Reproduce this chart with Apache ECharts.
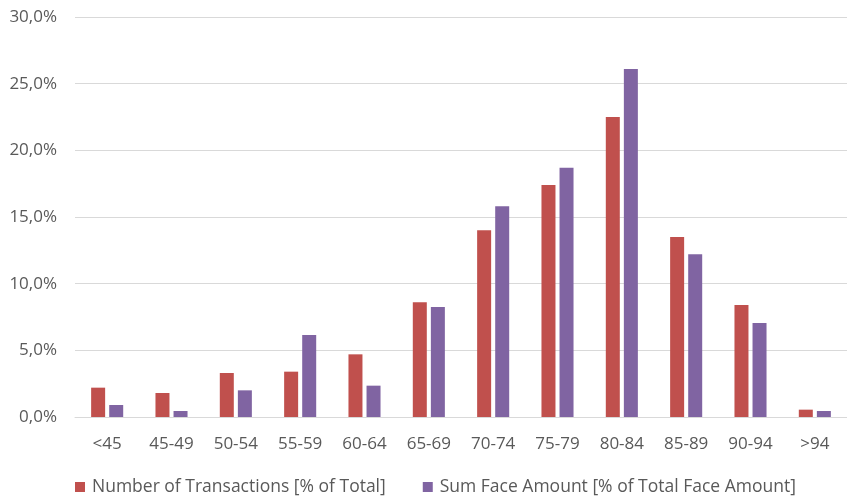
<!DOCTYPE html>
<html>
<head>
<meta charset="utf-8">
<script src="https://cdn.jsdelivr.net/npm/echarts@6/dist/echarts.min.js"></script>
<style>
html,body{margin:0;padding:0;background:#fff;}
#chart{width:847px;height:498px;}
</style>
</head>
<body>
<div id="chart"></div>
<script>
const categories = ['<45','45-49','50-54','55-59','60-64','65-69','70-74','75-79','80-84','85-89','90-94','>94'];
const transactions = [2.2, 1.8, 3.3, 3.4, 4.7, 8.6, 14.0, 17.4, 22.5, 13.5, 8.4, 0.55];
const faceAmount = [0.9, 0.45, 2.0, 6.15, 2.35, 8.25, 15.8, 18.7, 26.1, 12.2, 7.05, 0.45];
const seriesNames = ['Number of Transactions [% of Total]', 'Sum Face Amount [% of Total Face Amount]'];
const yTicks = {min: 0, max: 30, interval: 5};

const font = 'Open Sans';
const txt = '#595959';
const chart = echarts.init(document.getElementById('chart'), null, {renderer: 'canvas'});
chart.setOption({
  animation: false,
  textStyle: {fontFamily: font},
  grid: {left: 75, right: 0, top: 17, bottom: 81, containLabel: false},
  legend: {
    left: 75, top: 478, padding: 0,
    itemWidth: 10, itemHeight: 10, itemGap: 37,
    icon: 'rect',
    textStyle: {fontFamily: font, fontSize: 17.5, color: txt, padding: [0,0,0,2]},
    data: seriesNames
  },
  xAxis: {
    type: 'category',
    data: categories,
    axisLine: {lineStyle: {color: '#D9D9D9', width: 1}},
    axisTick: {show: false},
    axisLabel: {fontFamily: font, fontSize: 17, color: txt, margin: 19}
  },
  yAxis: {
    type: 'value',
    min: yTicks.min, max: yTicks.max, interval: yTicks.interval,
    axisLine: {show: false},
    axisTick: {show: false},
    splitLine: {lineStyle: {color: '#D9D9D9', width: 1}},
    axisLabel: {
      fontFamily: font, fontSize: 17, color: txt, margin: 18,
      formatter: v => v.toFixed(1).replace('.', ',') + '%'
    }
  },
  series: [
    {name: seriesNames[0], type: 'bar', data: transactions, barWidth: 14, barGap: '29%',
     itemStyle: {color: '#C0504D'}},
    {name: seriesNames[1], type: 'bar', data: faceAmount, barWidth: 14,
     itemStyle: {color: '#8064A2'}}
  ]
});
</script>
</body>
</html>
